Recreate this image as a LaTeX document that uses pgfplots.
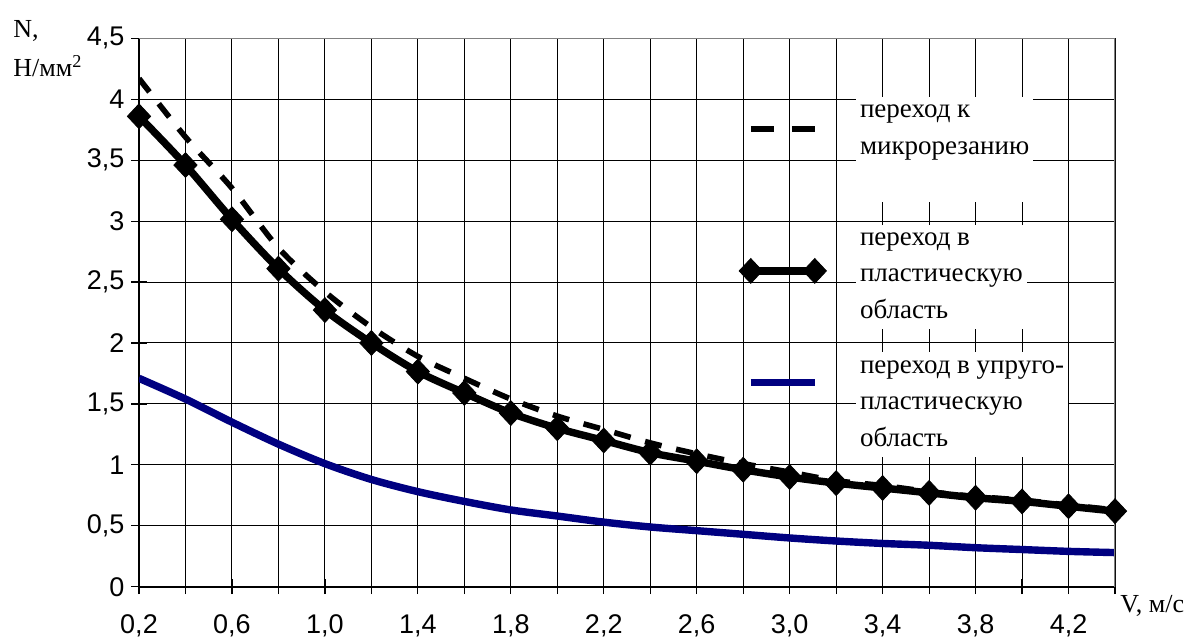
\documentclass[border=0pt]{standalone}
\usepackage{fontspec}
\setmainfont{Liberation Serif}
\newfontfamily\arialfont{Liberation Sans}
\usepackage{pgfplots}
\pgfplotsset{compat=1.18}
\definecolor{navyline}{RGB}{0,0,128}
\newcommand\tickfont{\fontsize{13.5}{16}\selectfont\arialfont}
\pgfplotsset{
  imgA/.style={legend image code/.code={\draw[##1, dash pattern=on 11.5pt off 9pt, yshift=10pt] plot coordinates {(0pt,0pt) (32pt,0pt)};}},
  imgB/.style={legend image code/.code={\draw[##1, yshift=3pt] plot coordinates {(0pt,0pt) (32pt,0pt)};}},
  imgC/.style={legend image code/.code={\draw[##1, yshift=11pt] plot coordinates {(0pt,0pt) (32pt,0pt)};}},
}
\begin{document}
\begin{tikzpicture}
\path[use as bounding box] (-69.5pt,-26.15pt) rectangle (526.5pt,293.35pt);
\begin{axis}[
  at={(0,0)}, anchor=south west,
  scale only axis, width=488pt, height=274.2pt,
  xmin=0.2, xmax=4.4, ymin=0, ymax=4.5,
  axis lines=left,
  axis line style={-, line width=1.1pt, black},
  xtick={0.2,0.4,0.6,0.8,1.0,1.2,1.4,1.6,1.8,2.0,2.2,2.4,2.6,2.8,3.0,3.2,3.4,3.6,3.8,4.0,4.2,4.4},
  xticklabels={{0,2},{},{0,6},{},{1,0},{},{1,4},{},{1,8},{},{2,2},{},{2,6},{},{3,0},{},{3,4},{},{3,8},{},{4,2},{}},
  ytick={0,0.5,1,1.5,2,2.5,3,3.5,4,4.5},
  yticklabels={0,{0,5},1,{1,5},2,{2,5},3,{3,5},4,{4,5}},
  tick label style={font=\tickfont},
  xticklabel style={yshift=-6.5pt, text height=9.8pt, text depth=0pt},
  yticklabel style={xshift=0pt},
  tick align=center, major tick length=7.5pt,
  tick style={black, line width=0.6pt},
  grid=major, grid style={black, line width=0.5pt},
  xlabel={V, м/с},
  every axis x label/.style={at={(rel axis cs:1,0)}, anchor=north west, inner sep=0pt, xshift=2.5pt, yshift=-4pt, font=\fontsize{13}{16}\selectfont},
  ylabel={N,\\Н/мм\textsuperscript{2}},
  every axis y label/.style={at={(rel axis cs:0,1)}, anchor=north west, inner sep=0pt, xshift=-63pt, yshift=9.15pt, align=left, font=\fontsize{13}{19.5}\selectfont},
  legend cell align=left,
  legend style={at={(rel axis cs:0.6145,0.894)}, anchor=north west, draw=none, fill=none, inner sep=0pt,
    row sep=11.5pt, column sep=14.8pt,
    nodes={fill=white, inner xsep=2pt, inner ysep=4pt, align=left, font=\fontsize{13.5}{18.25}\selectfont}},
]
\addplot[black, line width=2.8pt, smooth, dash pattern=on 8.5pt off 7.5pt, imgA]
  coordinates {(0.2,4.17) (0.4,3.69) (0.6,3.27) (0.8,2.78) (1.0,2.42) (1.2,2.13) (1.4,1.89) (1.6,1.71) (1.8,1.54) (2.0,1.40) (2.2,1.29) (2.4,1.18) (2.6,1.09) (2.8,1.01) (3.0,0.94) (3.2,0.87) (3.4,0.83) (3.6,0.78) (3.8,0.74) (4.0,0.71) (4.2,0.67) (4.4,0.63)};
\addlegendentry{переход к\\микрорезанию\\\vphantom{область}}
\addplot[black, line width=3.7pt, smooth, mark=diamond*, mark size=6.2pt, mark options={solid, line width=0.4pt, xscale=1.25}, imgB]
  coordinates {(0.2,3.86) (0.4,3.46) (0.6,3.015) (0.8,2.61) (1.0,2.27) (1.2,2.00) (1.4,1.765) (1.6,1.59) (1.8,1.425) (2.0,1.30) (2.2,1.20) (2.4,1.10) (2.6,1.03) (2.8,0.96) (3.0,0.90) (3.2,0.85) (3.4,0.81) (3.6,0.77) (3.8,0.73) (4.0,0.70) (4.2,0.66) (4.4,0.62)};
\addlegendentry{переход в\\пластическую\\область}
\addplot[navyline, line width=3.7pt, smooth, imgC]
  coordinates {(0.2,1.71) (0.4,1.54) (0.6,1.35) (0.8,1.17) (1.0,1.01) (1.2,0.88) (1.4,0.78) (1.6,0.70) (1.8,0.63) (2.0,0.58) (2.2,0.53) (2.4,0.49) (2.6,0.46) (2.8,0.43) (3.0,0.40) (3.2,0.375) (3.4,0.355) (3.6,0.34) (3.8,0.32) (4.0,0.305) (4.2,0.29) (4.4,0.28)};
\addlegendentry{переход в упруго-\\пластическую\\область}
\draw[black!50, line width=1pt] (rel axis cs:0,1) -- (rel axis cs:1,1) -- (rel axis cs:1,0);
\end{axis}
\end{tikzpicture}
\end{document}
